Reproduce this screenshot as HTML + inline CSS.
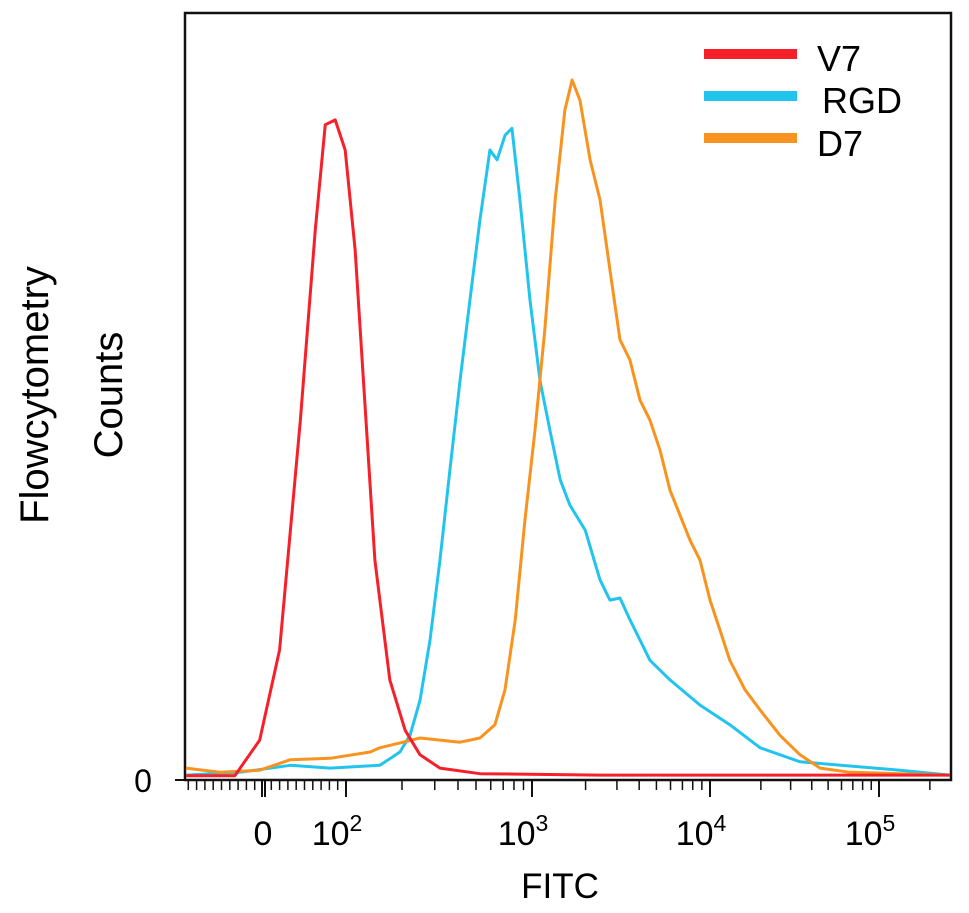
<!DOCTYPE html>
<html><head><meta charset="utf-8"><style>
html,body{margin:0;padding:0;background:#fff;}
svg{display:block;font-family:"Liberation Sans",Arial,sans-serif;}
</style></head><body>
<svg id="chart" width="969" height="913" viewBox="0 0 969 913">
  <rect x="185" y="13" width="766" height="767" fill="none" stroke="#111" stroke-width="2.5"/>
  <g id="series"></g>
  <g id="xaxis"></g>
  <text x="143" y="792" font-size="32" text-anchor="middle">0</text>
  <line x1="175" y1="780" x2="185" y2="780" stroke="#111" stroke-width="2"/>
  <text transform="translate(48,395) rotate(-90)" font-size="40" text-anchor="middle">Flowcytometry</text>
  <text transform="translate(122,395) rotate(-90)" font-size="40" text-anchor="middle">Counts</text>
  <text x="560" y="898" font-size="35" text-anchor="middle">FITC</text>
  <g>
    <line x1="704" y1="54" x2="797" y2="54" stroke="#f5202a" stroke-width="10"/>
    <text x="817" y="71" font-size="36">V7</text>
    <line x1="704" y1="96" x2="797" y2="96" stroke="#22c4ee" stroke-width="10"/>
    <text x="822" y="113" font-size="36">RGD</text>
    <line x1="704" y1="138" x2="797" y2="138" stroke="#f7931e" stroke-width="10"/>
    <text x="817" y="156" font-size="36">D7</text>
  </g>
</svg>
<script>
const v7X=[-94,-34,-4,20,45,63,75,87,99,112,126,143,172,208,250,320,525,2410,263000];
const v7Y=[0.6,0.6,5.7,18.6,51.4,78.6,93.6,94.3,90,75.7,54.3,31.4,14.3,7.1,3.6,1.7,0.9,0.7,0.7];
const rgdX=[-94,-28,33,81,152,195,221,250,283,320,362,410,464,525,594,649,716,780,861,975,1110,1260,1440,1630,1990,2410,2740,3120,3550,4600,5960,8790,13100,19800,34100,67300,133000,263000];
const rgdY=[0.7,1.1,2.1,1.7,2.1,4,6.4,11.4,20,31.4,44.3,57,68.6,80,90,88.6,92.1,93.1,82.9,68.6,57,50,42.9,39.3,35.7,28.6,25.7,26,22.9,17.1,14.3,10.7,7.9,4.6,2.6,2,1.4,0.7];
const d7X=[-94,-52,-4,33,81,135,152,195,250,320,410,525,632,716,813,916,1040,1180,1350,1530,1680,1860,2120,2410,2740,3120,3550,4040,4600,5240,5960,7710,8790,10000,11460,13100,16100,19800,25900,34100,44800,67300,133000,263000];
const d7Y=[1.7,1.1,1.4,2.9,3.1,4,4.6,5.3,6,5.7,5.4,6,7.9,12.9,22.9,37.1,50,64.3,82.9,95.7,100,97.1,88.6,82.9,72.9,62.9,60,54.3,51.4,47.1,41.4,34.3,31.4,25.7,21.4,17.1,12.9,10,6.4,3.6,1.7,1.1,0.9,0.7];
const majorTicks=[100,1000,10000,100000];
const majorLabels=["2","3","4","5"];

function xScale(v){
  if(v<=100) return 263+83*v/100;
  if(v<=1000) return 346+186*Math.log10(v/100);
  if(v<=10000) return 532+178*Math.log10(v/1000);
  return 710+169*Math.log10(v/10000);
}
function yScale(c){return 780-c*7;}
const NS="http://www.w3.org/2000/svg";
const sg=document.getElementById('series');
const ax=document.getElementById('xaxis');

function linePath(xs,ys){
  let d="";
  for(let i=0;i<xs.length;i++){
    const x=Math.max(186,Math.min(950,xScale(xs[i]))),y=yScale(ys[i]);
    d+=(i===0?"M":"L")+x+","+y;
  }
  return d;
}
function addSeries(xs,ys,color,name){
  const p=document.createElementNS(NS,'path');
  p.setAttribute('d',linePath(xs,ys));
  p.setAttribute('fill','none');
  p.setAttribute('stroke',color);
  p.setAttribute('stroke-width','3');
  p.setAttribute('stroke-linejoin','round');
  
  
  sg.appendChild(p);
}
addSeries(rgdX,rgdY,'#22c4ee','series-rgd');
addSeries(d7X,d7Y,'#f7931e','series-d7');
addSeries(v7X,v7Y,'#f5202a','series-v7');

function tick(x,len,w){
  const l=document.createElementNS(NS,'line');
  l.setAttribute('x1',x);l.setAttribute('x2',x);
  l.setAttribute('y1',781);l.setAttribute('y2',781+len);
  l.setAttribute('stroke','#111');l.setAttribute('stroke-width',w);
  
  
  ax.appendChild(l);
}
for(let v=-90;v<100;v+=10){ if(v!==0) tick(xScale(v),9,1.5); }
tick(xScale(0)-1,16,2);tick(xScale(0)+2,16,2);
for(let d=100;d<=100000;d*=10){
  for(let m=2;m<=9;m++){const x=xScale(d*m); if(x<950) tick(x,9,1.5);}
}
majorTicks.forEach((v,i)=>{
  tick(xScale(v),16,2);
  const t=document.createElementNS(NS,'text');
  t.setAttribute('x',xScale(v)-9);t.setAttribute('y',845);
  t.setAttribute('font-size','34');t.setAttribute('text-anchor','middle');
  
  
  t.innerHTML='10<tspan dy="-14" font-size="23">'+majorLabels[i]+'</tspan>';
  ax.appendChild(t);
});
const z=document.createElementNS(NS,'text');
z.setAttribute('x',xScale(0));z.setAttribute('y',845);
z.setAttribute('font-size','34');z.setAttribute('text-anchor','middle');
z.textContent='0';


ax.appendChild(z);
</script>
</body></html>
